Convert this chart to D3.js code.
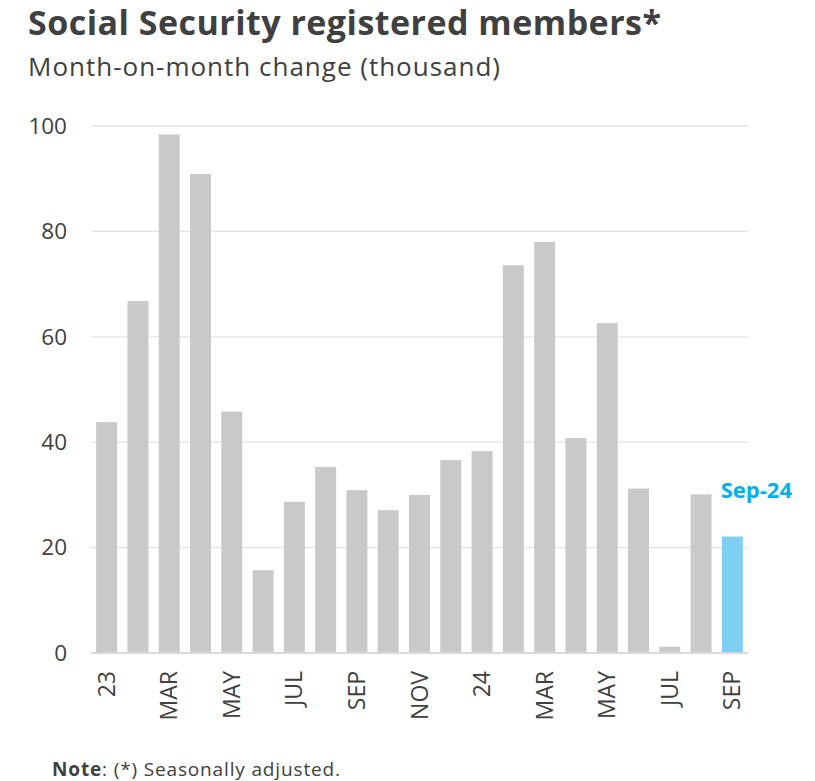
<!DOCTYPE html>
<html><head><meta charset="utf-8">
<script src="https://cdn.jsdelivr.net/npm/d3@7"></script>
<style>body{margin:0;background:#fff;} svg{display:block;}</style>
</head><body>
<script>
const months = ["Jan-23","Feb-23","Mar-23","Apr-23","May-23","Jun-23","Jul-23","Aug-23","Sep-23","Oct-23","Nov-23","Dec-23","Jan-24","Feb-24","Mar-24","Apr-24","May-24","Jun-24","Jul-24","Aug-24","Sep-24"];
const tickLabels = ["23","","MAR","","MAY","","JUL","","SEP","","NOV","","24","","MAR","","MAY","","JUL","","SEP"];
const values = [43.8,66.8,98.4,90.9,45.8,15.7,28.7,35.3,30.9,27.1,30.0,36.6,38.3,73.6,78.0,40.8,62.6,31.2,1.2,30.1,22.1];
const yTicks = [0,20,40,60,80,100];
const highlight = "Sep-24";

const W=815,H=781;
const m={left:91,right:67,top:126,bottom:128};
const font="'Open Sans', Lato, sans-serif";
const svg=d3.select("body").append("svg").attr("width",W).attr("height",H);
const x=d3.scaleBand().domain(months).range([m.left,W-m.right]).paddingInner(0.33).paddingOuter(0.165);
const y=d3.scaleLinear().domain([0,100]).range([H-m.bottom,m.top]);

svg.append("g").selectAll("line").data(yTicks.filter(d=>d>0)).join("line")
 .attr("x1",m.left).attr("x2",W-m.right).attr("y1",d=>y(d)).attr("y2",d=>y(d))
 .attr("stroke","#e4e4e4").attr("stroke-width",1.3);

svg.append("g").selectAll("rect").data(months).join("rect")
 .attr("x",d=>x(d)).attr("width",x.bandwidth())
 .attr("y",(d,i)=>y(values[i])).attr("height",(d,i)=>y(0)-y(values[i]))
 .attr("fill",d=>d===highlight?"#7fcff3":"#c9c9c9");

svg.append("line").attr("x1",m.left).attr("x2",W-m.right).attr("y1",y(0)).attr("y2",y(0))
 .attr("stroke","#d9d9d9").attr("stroke-width",2);

const ya=svg.append("g").attr("transform",`translate(${m.left-24},0)`)
 .call(d3.axisLeft(y).tickValues(yTicks).tickSize(0).tickPadding(0));
ya.select(".domain").remove();
ya.selectAll("text").attr("font-family",font).attr("font-size",22.5).attr("fill","#404040");

const xa=svg.append("g").attr("transform",`translate(0,${y(0)})`)
 .call(d3.axisBottom(x).tickFormat((d,i)=>tickLabels[i]).tickSize(0));
xa.select(".domain").remove();
xa.selectAll("text").attr("font-family",font).attr("font-size",23).attr("fill","#404040")
 .attr("text-anchor","end").attr("dy","0.35em")
 .attr("transform","translate(0,18) rotate(-90)")
 .attr("x",0).attr("y",0);

const hi=months.indexOf(highlight);
svg.append("text").attr("x",x(highlight)+x.bandwidth()/2+24).attr("y",y(values[hi])-39)
 .attr("text-anchor","middle").attr("font-family",font).attr("font-weight","bold").attr("font-size",22)
 .attr("fill","#00b0f0").text(highlight);

svg.append("text").attr("x",28).attr("y",35).attr("font-family",font).attr("font-weight","bold")
 .attr("font-size",34).attr("fill","#404040")
 .attr("textLength",633).attr("lengthAdjust","spacing").text("Social Security registered members*");
svg.append("text").attr("x",28).attr("y",76).attr("font-family",font)
 .attr("font-size",26).attr("fill","#404040")
 .attr("textLength",472).attr("lengthAdjust","spacing").text("Month-on-month change (thousand)");

const note=svg.append("text").attr("x",52).attr("y",776).attr("font-family",font)
 .attr("font-size",19).attr("fill","#404040")
 .attr("textLength",288).attr("lengthAdjust","spacing");
note.append("tspan").attr("font-weight","bold").text("Note");
note.append("tspan").text(": (*) Seasonally adjusted.");
</script>
</body></html>
